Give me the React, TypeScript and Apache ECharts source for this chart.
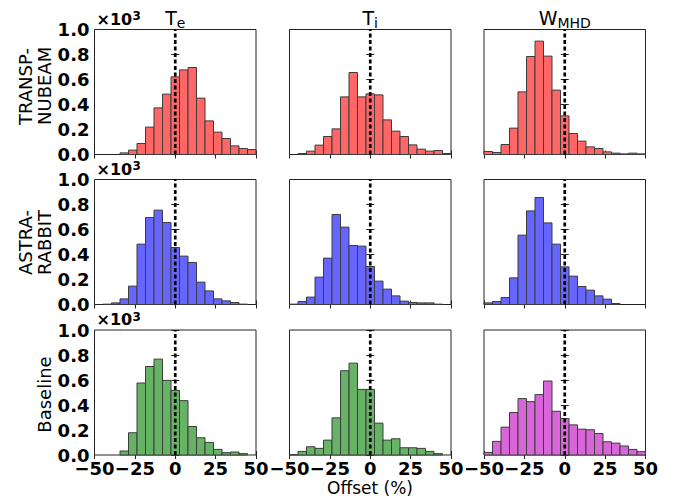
import React, { useEffect, useRef } from "react";
import * as echarts from "echarts";

// Histogram bins: 19 equal bins spanning -50 .. 50 (%)
const BIN_MIN = -50;
const BIN_MAX = 50;
const BIN_COUNT = 19;
const BIN_EDGES: number[] = Array.from({ length: BIN_COUNT + 1 }, (_, k) => BIN_MIN + (k * (BIN_MAX - BIN_MIN)) / BIN_COUNT);

// Counts per bin
const TE_TRANSP = [0, 0, 0, 13, 35, 88, 219, 373, 483, 621, 677, 696, 451, 269, 179, 128, 69, 48, 40];
const TI_TRANSP = [0, 8, 27, 75, 144, 205, 461, 656, 461, 485, 477, 277, 187, 144, 77, 43, 27, 32, 8];
const W_TRANSP = [24, 16, 80, 211, 501, 784, 907, 787, 515, 309, 168, 107, 61, 48, 21, 11, 5, 11, 5];

const TE_ASTRA = [0, 3, 13, 45, 147, 483, 696, 755, 656, 456, 387, 336, 179, 109, 45, 29, 16, 3, 0];
const TI_ASTRA = [3, 24, 59, 219, 371, 720, 619, 472, 467, 304, 187, 123, 69, 27, 16, 13, 13, 3, 0];
const W_ASTRA = [13, 24, 56, 213, 555, 749, 856, 653, 483, 301, 227, 144, 115, 69, 43, 8, 0, 0, 0];

const TE_BASE = [0, 0, 0, 32, 178, 576, 708, 767, 597, 517, 435, 228, 138, 101, 45, 19, 24, 11, 0];
const TI_BASE = [3, 29, 66, 53, 119, 297, 674, 735, 525, 525, 255, 119, 130, 58, 58, 53, 29, 11, 0];
const W_BASE = [21, 109, 223, 340, 451, 427, 483, 592, 350, 292, 241, 207, 202, 172, 106, 95, 72, 45, 27];

const PANELS: number[][][] = [
  [TE_TRANSP, TI_TRANSP, W_TRANSP],
  [TE_ASTRA, TI_ASTRA, W_ASTRA],
  [TE_BASE, TI_BASE, W_BASE],
];
const ROW_COLORS = [
  ["#ff6666", "#ff6666", "#ff6666"],
  ["#6666ff", "#6666ff", "#6666ff"],
  ["#66b366", "#66b366", "#d966d9"],
];
const COLUMN_TITLES = [
  { main: "T", sub: "e" },
  { main: "T", sub: "i" },
  { main: "W", sub: "MHD" },
];
const ROW_LABELS = [["TRANSP-", "NUBEAM"], ["ASTRA-", "RABBIT"], ["Baseline"]];
const X_TICKS = { min: -50, max: 50, interval: 25 };
const Y_TICKS = { min: 0, max: 1000, interval: 200 };
const VLINE_X = 0;
const X_NAME = "Offset (%)";

const FONT = "DejaVu Sans";
const COL_LEFT = [94.5, 289.5, 484];
const ROW_TOP = [29.5, 179.5, 330];
const GW = 161.5;
const GH = 125;

export default function App() {
  const ref = useRef<HTMLDivElement>(null);
  useEffect(() => {
    document.body.style.margin = "0";
    const chart = echarts.init(ref.current!, null, { renderer: "svg" });
    const grid: any[] = [];
    const xAxis: any[] = [];
    const yAxis: any[] = [];
    const series: any[] = [];
    const graphic: any[] = [];
    const fmtX = (v: number) => (v < 0 ? "\u2212" + Math.abs(v) : String(v));
    let g = 0;
    for (let r = 0; r < 3; r++) {
      for (let c = 0; c < 3; c++) {
        grid.push({
          left: COL_LEFT[c],
          top: ROW_TOP[r],
          width: GW,
          height: GH,
          show: true,
          borderColor: "#222",
          borderWidth: 1,
          backgroundColor: "transparent",
        });
        const tick = { show: true, inside: true, length: 4, lineStyle: { color: "#222", width: 1 } };
        // bottom x axis (data)
        xAxis.push({
          gridIndex: g,
          type: "value",
          position: "bottom",
          ...X_TICKS,
          axisLine: { show: false },
          axisTick: tick,
          splitLine: { show: false },
          axisLabel: {
            show: r === 2,
            formatter: fmtX,
            fontFamily: FONT,
            fontWeight: "bold",
            fontSize: 18,
            color: "#000",
            margin: 4,
            showMinLabel: true,
            showMaxLabel: true,
          },
        });
        // top x axis (ticks only)
        xAxis.push({
          gridIndex: g,
          type: "value",
          position: "top",
          ...X_TICKS,
          axisLine: { show: false },
          axisTick: tick,
          splitLine: { show: false },
          axisLabel: { show: false },
        });
        yAxis.push({
          gridIndex: g,
          type: "value",
          position: "left",
          ...Y_TICKS,
          axisLine: { show: false },
          axisTick: tick,
          splitLine: { show: false },
          axisLabel: {
            show: c === 0,
            formatter: (v: number) => (v / 1000).toFixed(1),
            fontFamily: FONT,
            fontWeight: "bold",
            fontSize: 18,
            color: "#000",
            margin: 5,
          },
        });
        yAxis.push({
          gridIndex: g,
          type: "value",
          position: "right",
          ...Y_TICKS,
          axisLine: { show: false },
          axisTick: tick,
          splitLine: { show: false },
          axisLabel: { show: false },
        });
        const counts = PANELS[r][c];
        const data = counts.map((v, i) => [BIN_EDGES[i], BIN_EDGES[i + 1], v]);
        const fill = ROW_COLORS[r][c];
        series.push({
          type: "custom",
          xAxisIndex: g * 2,
          yAxisIndex: g * 2,
          data,
          encode: { x: [0, 1], y: 2 },
          renderItem: (params: any, api: any) => {
            const y = api.value(2);
            if (!y) return null;
            const p0 = api.coord([api.value(0), 0]);
            const p1 = api.coord([api.value(1), y]);
            return {
              type: "rect",
              shape: { x: p0[0], y: p1[1], width: p1[0] - p0[0], height: p0[1] - p1[1] },
              style: { fill, stroke: "#3c3c3c", lineWidth: 1 },
            };
          },
          z: 2,
        });
        series.push({
          type: "line",
          xAxisIndex: g * 2,
          yAxisIndex: g * 2,
          data: [
            [VLINE_X, Y_TICKS.min],
            [VLINE_X, Y_TICKS.max],
          ],
          symbol: "none",
          lineStyle: { color: "#000", width: 2.7, type: [4, 2.5] },
          z: 3,
          silent: true,
        });
        g++;
      }
      // ×10^3 label
      const base = ROW_TOP[r] - 4.5;
      graphic.push({
        type: "text",
        x: 96.5,
        y: base - 5.7,
        style: { text: "\u00d710", font: `bold 16px "${FONT}"`, fill: "#000", align: "left", verticalAlign: "middle" },
      });
      graphic.push({
        type: "text",
        x: 132.5,
        y: base - 9,
        style: { text: "3", font: `bold 12px "${FONT}"`, fill: "#000", align: "left", verticalAlign: "middle" },
      });
      // Row labels
      const labels = ROW_LABELS[r];
      if (labels.length === 2) {
        const start = ROW_TOP[r] + 95.5;
        graphic.push({
          type: "text",
          x: 25,
          y: start,
          rotation: Math.PI / 2,
          style: { text: labels[0], font: `18px "${FONT}"`, fill: "#000", align: "left", verticalAlign: "middle" },
        });
        graphic.push({
          type: "text",
          x: 44,
          y: start,
          rotation: Math.PI / 2,
          style: { text: labels[1], font: `18px "${FONT}"`, fill: "#000", align: "left", verticalAlign: "middle" },
        });
      } else {
        graphic.push({
          type: "text",
          x: 44,
          y: ROW_TOP[r] + GH / 2 + 2,
          rotation: Math.PI / 2,
          style: { text: labels[0], font: `18px "${FONT}"`, fill: "#000", align: "center", verticalAlign: "middle" },
        });
      }
    }
    // Column titles
    const mainW = [12.2 * 19 / 20, 12.2 * 19 / 20, 19.8 * 19 / 20];
    const subW = [8.6, 3.9, 33.4];
    for (let c = 0; c < 3; c++) {
      const cx = COL_LEFT[c] + GW / 2;
      const total = mainW[c] + subW[c];
      const split = cx - total / 2 + mainW[c];
      graphic.push({
        type: "text",
        x: split,
        y: 18.2,
        style: { text: COLUMN_TITLES[c].main, font: `19px "${FONT}"`, fill: "#000", align: "right", verticalAlign: "middle" },
      });
      graphic.push({
        type: "text",
        x: split,
        y: 23.4,
        style: { text: COLUMN_TITLES[c].sub, font: `14px "${FONT}"`, fill: "#000", align: "left", verticalAlign: "middle" },
      });
    }
    graphic.push({
      type: "text",
      x: 370,
      y: 488,
      style: { text: X_NAME, font: `17px "${FONT}"`, fill: "#000", align: "center", verticalAlign: "middle" },
    });

    chart.setOption({
      animation: false,
      grid,
      xAxis,
      yAxis,
      series,
      graphic,
    });
    return () => chart.dispose();
  }, []);
  return <div ref={ref} style={{ width: 677, height: 500 }} />;
}
